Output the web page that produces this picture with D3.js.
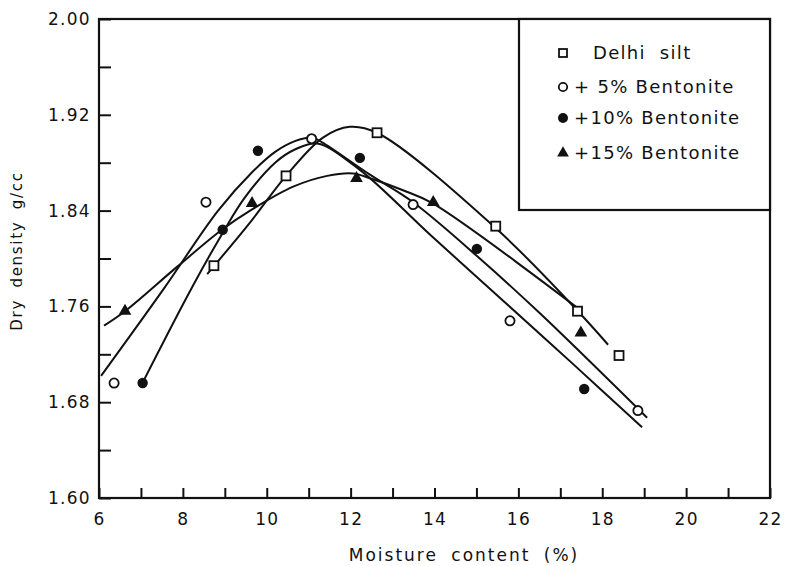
<!DOCTYPE html>
<html>
<head>
<meta charset="utf-8">
<script src="https://cdn.jsdelivr.net/npm/d3@7"></script>
<style>
  body { margin: 0; background: #fff; }
  text { font-family: "DejaVu Sans", sans-serif; fill: #111; }
</style>
</head>
<body>
<svg id="chart" width="785" height="566"></svg>
<script>
// measured points [moisture %, dry density g/cc]
const delhiPts = [[8.74, 1.794], [10.46, 1.869], [12.63, 1.905], [15.46, 1.827], [17.41, 1.756], [18.40, 1.719]];
const bent5Pts = [[6.36, 1.696], [8.55, 1.847], [11.07, 1.900], [13.49, 1.845], [15.80, 1.748], [18.85, 1.673]];
const bent10Pts = [[7.04, 1.696], [8.95, 1.824], [9.79, 1.890], [12.22, 1.884], [15.01, 1.808], [17.57, 1.691]];
const bent15Pts = [[6.62, 1.756], [9.65, 1.846], [12.14, 1.867], [13.97, 1.847], [17.49, 1.738]];

// hand drawn compaction curves
const delhiCurve = [[8.58, 1.787], [9.60, 1.830], [10.46, 1.869], [11.34, 1.901], [11.98, 1.910], [12.63, 1.905], [15.47, 1.825], [17.42, 1.756], [18.14, 1.728]];
const bent5Curve = [[6.05, 1.702], [7.53, 1.774], [8.84, 1.840], [9.65, 1.872], [10.20, 1.889], [10.67, 1.898], [11.08, 1.901], [11.32, 1.897], [12.46, 1.870], [13.49, 1.847], [15.08, 1.800], [16.52, 1.754], [19.07, 1.667]];
const bent10Curve = [[7.05, 1.697], [8.22, 1.776], [8.96, 1.822], [9.48, 1.851], [10.20, 1.880], [10.67, 1.891], [11.20, 1.896], [12.22, 1.874], [13.89, 1.820], [15.63, 1.765], [17.30, 1.712], [18.95, 1.659]];
const bent15Curve = [[6.12, 1.744], [6.62, 1.756], [7.86, 1.793], [8.93, 1.824], [9.65, 1.841], [10.63, 1.860], [11.44, 1.869], [12.06, 1.871], [12.46, 1.867], [13.25, 1.857], [13.96, 1.846], [17.40, 1.759]];

const xTicks = d3.range(6, 22.5, 1);
const yTicks = [1.60, 1.64, 1.68, 1.72, 1.76, 1.80, 1.84, 1.88, 1.92, 1.96, 2.00];
const legendLabels = ["Delhi  silt", "+ 5% Bentonite", "+10% Bentonite", "+15% Bentonite"];

const plotLeft = 99, plotRight = 770, plotTop = 19, plotBottom = 498;
const ink = "#111";

const svg = d3.select("#chart");

let x = d3.scaleLinear().domain([6, 22]).range([plotLeft, plotRight]);
let y = d3.scaleLinear().domain([1.60, 2.00]).range([plotBottom, plotTop]);

// frame
svg.append("rect")
    .attr("x", plotLeft).attr("y", plotTop)
    .attr("width", plotRight - plotLeft).attr("height", plotBottom - plotTop)
    .attr("fill", "none").attr("stroke", ink).attr("stroke-width", 2.2);

// axes, ticks point inward
let yAxis = svg.append("g")
    .attr("transform", `translate(${plotLeft},0)`)
    .call(d3.axisLeft(y).tickValues(yTicks).tickSize(-12).tickPadding(8)
        .tickFormat((d, i) => i % 2 == 0 ? d3.format(".2f")(d) : ""));

let xAxis = svg.append("g")
    .attr("transform", `translate(0,${plotBottom})`)
    .call(d3.axisBottom(x).tickValues(xTicks).tickSize(-10).tickPadding(15)
        .tickFormat(d => d % 2 == 0 ? d : ""));

[xAxis, yAxis].forEach(ax => {
    ax.select(".domain").remove();
    ax.selectAll(".tick line").attr("stroke", ink).attr("stroke-width", 2);
    ax.selectAll(".tick text")
        .attr("font-size", "17px")
        .style("letter-spacing", "1.3px")
        .attr("fill", ink);
});

// axis titles
svg.append("text")
    .attr("x", 464).attr("y", 561)
    .attr("text-anchor", "middle")
    .attr("font-size", "17px")
    .style("letter-spacing", "2px")
    .style("word-spacing", "6px")
    .text("Moisture content (%)");

svg.append("text")
    .attr("transform", "translate(22,251) rotate(-90)")
    .attr("text-anchor", "middle")
    .attr("font-size", "15px")
    .style("letter-spacing", "1.7px")
    .style("word-spacing", "5px")
    .text("Dry density g/cc");

// curves
let line = d3.line()
    .x(d => x(d[0]))
    .y(d => y(d[1]))
    .curve(d3.curveCatmullRom.alpha(0.5));

[delhiCurve, bent5Curve, bent10Curve, bent15Curve].forEach(c => {
    svg.append("path")
        .datum(c)
        .attr("d", line)
        .attr("fill", "none")
        .attr("stroke", ink)
        .attr("stroke-width", 2);
});

// markers
const drawSquare = (g, s) => g.append("rect")
    .attr("x", -s / 2).attr("y", -s / 2).attr("width", s).attr("height", s)
    .attr("fill", "#fff").attr("stroke", ink).attr("stroke-width", 1.8);
const drawOpen = (g, r) => g.append("circle").attr("r", r)
    .attr("fill", "#fff").attr("stroke", ink).attr("stroke-width", 1.8);
const drawFilled = (g, r) => g.append("circle").attr("r", r).attr("fill", ink);
const drawTri = (g, s) => g.append("path")
    .attr("d", d3.symbol(d3.symbolTriangle, s)())
    .attr("fill", ink);

function plotMarkers(pts, draw, size) {
    svg.append("g").selectAll("g")
        .data(pts)
        .join("g")
        .attr("transform", d => `translate(${x(d[0])},${y(d[1])})`)
        .each(function () { draw(d3.select(this), size); });
}

plotMarkers(delhiPts, drawSquare, 9);
plotMarkers(bent5Pts, drawOpen, 4.6);
plotMarkers(bent10Pts, drawFilled, 5.2);
plotMarkers(bent15Pts, drawTri, 70);

// legend box
let legend = svg.append("g");
legend.append("rect")
    .attr("x", 519).attr("y", plotTop)
    .attr("width", plotRight - 519).attr("height", 210 - plotTop)
    .attr("fill", "#fff").attr("stroke", ink).attr("stroke-width", 2.2);

const legendY = [53, 87, 118, 153];
const legendDraw = [g => drawSquare(g, 8), g => drawOpen(g, 4.2), g => drawFilled(g, 5), g => drawTri(g, 60)];
legendLabels.forEach((lab, i) => {
    let g = legend.append("g").attr("transform", `translate(563,${legendY[i]})`);
    legendDraw[i](g);
    legend.append("text")
        .attr("x", i == 0 ? 593 : 574)
        .attr("y", legendY[i] + 6)
        .attr("font-size", "18px")
        .style("letter-spacing", "1.3px")
        .style("word-spacing", i == 0 ? "7px" : "0px")
        .text(lab);
});
</script>
</body>
</html>
